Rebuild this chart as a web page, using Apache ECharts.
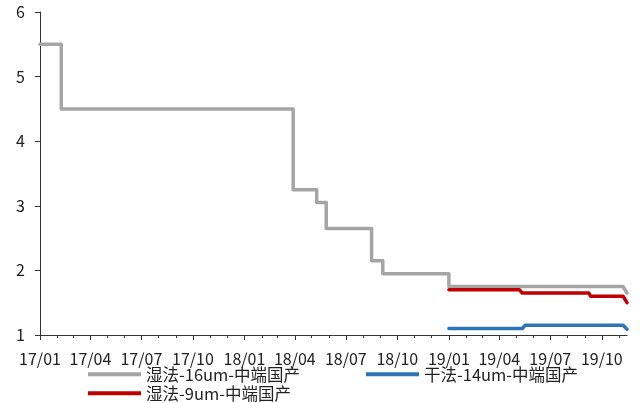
<!DOCTYPE html>
<html>
<head>
<meta charset="utf-8">
<script src="https://cdn.jsdelivr.net/npm/echarts@6/dist/echarts.min.js"></script>
<style>
  html, body { margin: 0; padding: 0; background: #fff; }
  #chart { width: 640px; height: 403px; }
</style>
</head>
<body>
<div id="chart"></div>
<script>
// Series names (legend order)
const seriesNames = ['湿法-16um-中端国产', '干法-14um-中端国产', '湿法-9um-中端国产'];
const seriesColors = ['#A5A5A5', '#2E75B6', '#C00000'];

// Wet process 16um: dates where the level holds and the level itself
const wet16Dates  = ['2017-01-01', '2017-02-08', '2017-02-08', '2018-03-29', '2018-03-29', '2018-05-10', '2018-05-10', '2018-05-27', '2018-05-27', '2018-08-16', '2018-08-16', '2018-09-05', '2018-09-05', '2019-01-01', '2019-01-01', '2019-11-08', '2019-11-15'];
const wet16Values = [5.5, 5.5, 4.5, 4.5, 3.25, 3.25, 3.05, 3.05, 2.65, 2.65, 2.15, 2.15, 1.95, 1.95, 1.75, 1.75, 1.65];

// Dry process 14um
const dry14Dates  = ['2019-01-01', '2019-05-12', '2019-05-17', '2019-11-08', '2019-11-15'];
const dry14Values = [1.10, 1.10, 1.15, 1.15, 1.09];

// Wet process 9um
const wet9Dates  = ['2019-01-01', '2019-05-07', '2019-05-12', '2019-09-08', '2019-09-11', '2019-11-08', '2019-11-15'];
const wet9Values = [1.70, 1.70, 1.65, 1.65, 1.60, 1.60, 1.50];

// Axis settings
const xStart = '2017-01-01';
const xEnd = '2019-11-15';
const monthCount = 35;        // monthly ticks from 17/01 onwards
const labelEvery = 3;         // a label every quarter
const yMin = 1, yMax = 6, yStep = 1;

// The x axis is a date axis measured in days from the first day
const DAY = 86400000;
function toUTC(s) {
  const p = s.split('-').map(Number);
  return Date.UTC(p[0], p[1] - 1, p[2]);
}
const origin = toUTC(xStart);
function dayIndex(s) { return Math.round((toUTC(s) - origin) / DAY); }

const monthTicks = [];
const quarterTicks = [];
for (let i = 0; i < monthCount; i++) {
  const d = Math.round((Date.UTC(2017, i, 1) - origin) / DAY);
  monthTicks.push(d);
  if (i % labelEvery === 0) quarterTicks.push(d);
}

function pairs(dates, values) {
  return dates.map((d, i) => [dayIndex(d), values[i]]);
}

function fmtMonth(v) {
  const d = new Date(origin + Math.round(v) * DAY);
  const yy = String(d.getUTCFullYear()).slice(2);
  const mm = String(d.getUTCMonth() + 1).padStart(2, '0');
  return yy + '/' + mm;
}

const font = '"Noto Sans CJK SC", "Noto Sans", sans-serif';

const seriesData = [pairs(wet16Dates, wet16Values), pairs(dry14Dates, dry14Values), pairs(wet9Dates, wet9Values)];

const chart = echarts.init(document.getElementById('chart'), null, { renderer: 'canvas' });

const legendBase = {
  orient: 'horizontal',
  icon: 'rect',
  itemWidth: 53,
  itemHeight: 4,
  padding: 0,
  textStyle: { fontFamily: font, fontSize: 16.5, color: '#222' }
};

const xMin = 0;
const xMax = dayIndex(xEnd);

chart.setOption({
  animation: false,
  backgroundColor: '#fff',
  color: seriesColors,
  grid: { left: 40, right: 13, top: 12, bottom: 68, containLabel: false },
  xAxis: [
    {
      type: 'value',
      min: xMin,
      max: xMax,
      axisLine: { show: true, lineStyle: { color: '#333', width: 1 } },
      axisTick: { show: true, customValues: monthTicks, length: 3, lineStyle: { color: '#333' } },
      axisLabel: {
        customValues: quarterTicks,
        formatter: fmtMonth,
        fontFamily: font,
        fontSize: 16,
        color: '#222',
        margin: 16
      },
      splitLine: { show: false }
    },
    {
      type: 'value',
      position: 'bottom',
      min: xMin,
      max: xMax,
      axisLine: { show: false },
      axisTick: { show: true, customValues: quarterTicks, length: 5, lineStyle: { color: '#333' } },
      axisLabel: { show: false },
      splitLine: { show: false }
    }
  ],
  yAxis: {
    type: 'value',
    min: yMin,
    max: yMax,
    interval: yStep,
    axisLine: { show: true, lineStyle: { color: '#333', width: 1 } },
    axisTick: { show: true, length: 5, lineStyle: { color: '#333' } },
    axisLabel: { fontFamily: font, fontSize: 16, color: '#222', margin: 15 },
    splitLine: { show: false }
  },
  legend: [
    Object.assign({}, legendBase, { data: [seriesNames[0]], left: 88, top: 366 }),
    Object.assign({}, legendBase, { data: [seriesNames[1]], left: 366, top: 366 }),
    Object.assign({}, legendBase, { data: [seriesNames[2]], left: 88, top: 385 })
  ],
  series: seriesNames.map((name, i) => ({
    name: name,
    type: 'line',
    xAxisIndex: 0,
    data: seriesData[i],
    showSymbol: false,
    symbol: 'none',
    lineStyle: { width: 3.5, color: seriesColors[i], cap: 'round', join: 'round' },
    itemStyle: { color: seriesColors[i] },
    z: i === 0 ? 2 : 3
  }))
});
</script>
</body>
</html>
